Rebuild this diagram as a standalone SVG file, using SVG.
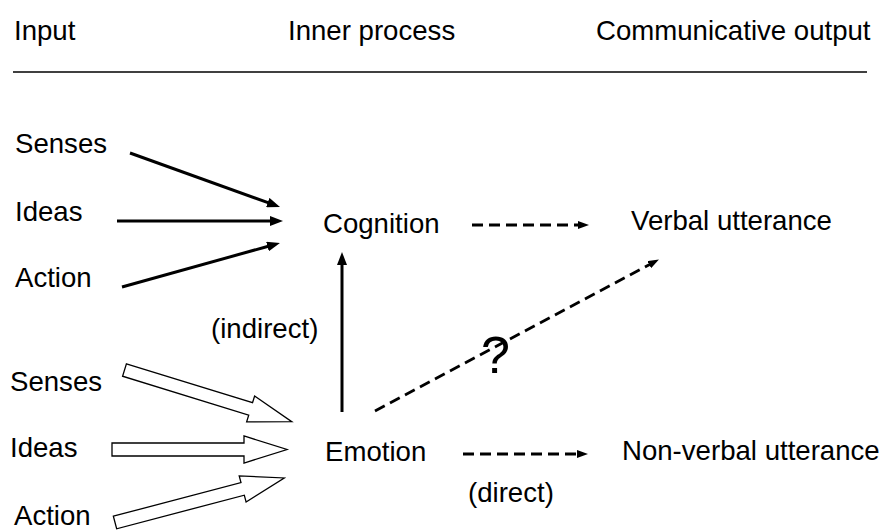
<svg xmlns="http://www.w3.org/2000/svg" width="882" height="530" viewBox="0 0 882 530">
<style>
text{font-family:"Liberation Sans",Arial,sans-serif;font-size:27.6px;fill:#000}
.ln{stroke:#000;stroke-width:3;fill:none}
.ds{stroke:#000;stroke-width:2.8;fill:none;stroke-dasharray:11 6}
.blk{fill:#fff;stroke:#000;stroke-width:1.3;stroke-linejoin:miter}
</style>
<defs>
<marker id="ah" markerUnits="userSpaceOnUse" markerWidth="13" markerHeight="10" refX="1" refY="5" orient="auto"><path d="M0,0 L13,5 L0,10 z" fill="#000"/></marker>
<marker id="ahs" markerUnits="userSpaceOnUse" markerWidth="11" markerHeight="8" refX="1" refY="4" orient="auto"><path d="M0,0 L11,4 L0,8 z" fill="#000"/></marker>
<polygon id="block" points="0,-6.5 132,-6.5 132,-13.5 175,0 132,13.5 132,6.5 0,6.5"/>
</defs>
<g id="header">
<text x="14" y="40">Input</text>
<text x="288" y="40">Inner process</text>
<text x="596" y="40">Communicative output</text>
<line x1="13" y1="72" x2="867" y2="72" stroke="#000" stroke-width="1.5"/>
</g>
<g id="in-senses-cog"><text x="15" y="153">Senses</text></g>
<g id="in-ideas-cog"><text x="15" y="221">Ideas</text></g>
<g id="in-action-cog"><text x="15" y="287">Action</text></g>
<g id="in-senses-emo"><text x="10" y="391">Senses</text></g>
<g id="in-ideas-emo"><text x="10" y="457">Ideas</text></g>
<g id="in-action-emo"><text x="14" y="525">Action</text></g>
<g id="cognition"><text x="323" y="233">Cognition</text></g>
<g id="emotion"><text x="325" y="461">Emotion</text></g>
<g id="verbal"><text x="631" y="230">Verbal utterance</text></g>
<g id="nonverbal"><text x="622" y="460">Non-verbal utterance</text></g>
<g id="labels">
<text x="211" y="338">(indirect)</text>
<text x="468" y="502">(direct)</text>
<text x="481" y="373" style="font-size:52px">?</text>
</g>
<g id="connectors">
<line class="ln" x1="130" y1="153" x2="268.7" y2="202.9" marker-end="url(#ah)"/>
<line class="ln" x1="117" y1="221" x2="271" y2="221" marker-end="url(#ah)"/>
<line class="ln" x1="122" y1="287" x2="268.4" y2="246.2" marker-end="url(#ah)"/>
<line class="ln" x1="342" y1="412" x2="342" y2="264" marker-end="url(#ah)"/>
<line class="ds" x1="472" y1="225" x2="579" y2="225" marker-end="url(#ahs)"/>
<line class="ds" x1="375" y1="411" x2="650.1" y2="264.2" marker-end="url(#ahs)"/>
<line class="ds" x1="463" y1="454" x2="578" y2="454" marker-end="url(#ahs)"/>
<use href="#block" class="blk" transform="translate(124.5,370) rotate(17.15)"/>
<use href="#block" class="blk" transform="translate(112,449.5)"/>
<use href="#block" class="blk" transform="translate(115,522.5) rotate(-14.75)"/>
</g>
</svg>
